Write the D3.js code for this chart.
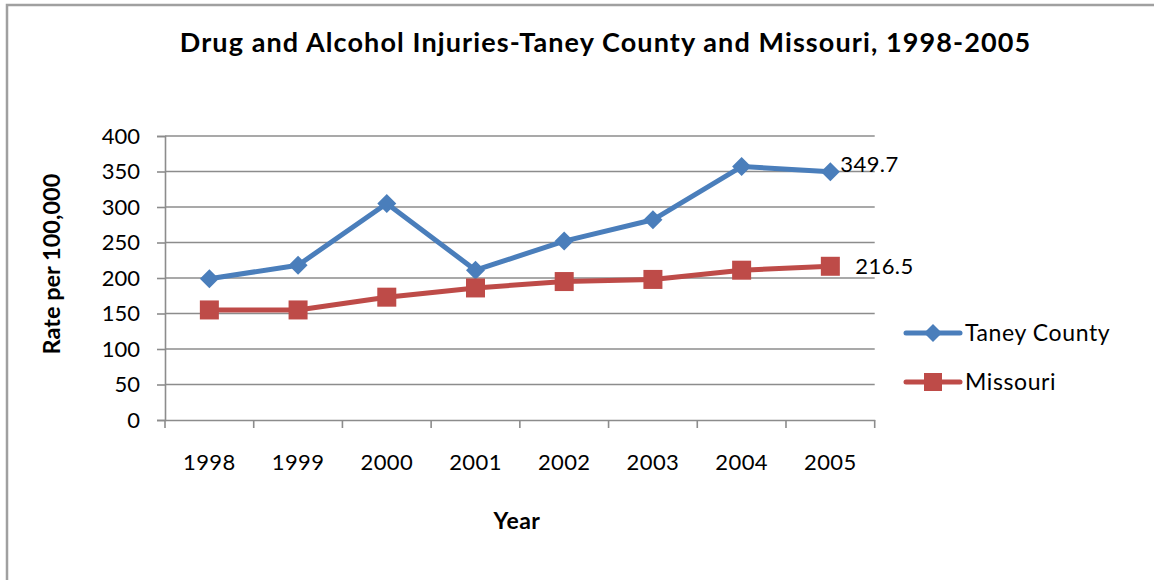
<!DOCTYPE html>
<html><head><meta charset="utf-8">
<script src="https://cdn.jsdelivr.net/npm/d3@7"></script>
<style>
html,body{margin:0;padding:0;background:#fff;}
svg{display:block;}
text{font-family:Lato,"Open Sans",sans-serif;fill:#000;}
</style></head>
<body>
<svg id="chart" width="1154" height="580"></svg>
<script>
const years = ["1998","1999","2000","2001","2002","2003","2004","2005"];
const taneyCounty = [199, 218, 305, 211, 252, 282, 357, 349.7];
const missouri = [155, 155, 173, 186, 195, 198, 211, 216.5];
const yTicks = [0, 50, 100, 150, 200, 250, 300, 350, 400];
const seriesNames = ["Taney County", "Missouri"];
const titleText = "Drug and Alcohol Injuries-Taney County and Missouri, 1998-2005";

(function(){
const svg = d3.select("#chart");
const blue = "#4a7ebb", red = "#be4b48", grid = "#8c8c8c";

// outer frame
svg.append("rect").attr("x",7).attr("y",5).attr("width",1160).attr("height",590)
  .attr("fill","none").attr("stroke","#a0a0a0").attr("stroke-width",2.5);

const pL = 165, pR = 874.7, pT = 136, pB = 420;
const x = d3.scaleBand().domain(years).range([pL, pR]).padding(0);
const y = d3.scaleLinear().domain([0,400]).range([pB, pT]);

// gridlines
svg.append("g").selectAll("line").data(yTicks.filter(d=>d>0)).join("line")
  .attr("x1",pL).attr("x2",pR).attr("y1",d=>y(d)).attr("y2",d=>y(d))
  .attr("stroke",grid).attr("stroke-width",1.6);

// y axis
const yAxis = svg.append("g").attr("transform",`translate(${pL},0)`)
  .call(d3.axisLeft(y).tickValues(yTicks).tickSize(8).tickPadding(17));
yAxis.select(".domain").attr("stroke",grid).attr("stroke-width",1.6);
yAxis.selectAll(".tick line").attr("stroke",grid).attr("stroke-width",1.6);
yAxis.selectAll(".tick text").attr("font-size",22).attr("font-family","Lato").attr("fill","#000");

// x axis
const xAxis = svg.append("g").attr("transform",`translate(0,${pB})`)
  .call(d3.axisBottom(x).tickSize(0).tickPadding(34));
xAxis.select(".domain").attr("stroke",grid).attr("stroke-width",1.6);
xAxis.selectAll(".tick text").attr("font-size",22).attr("font-family","Lato").attr("fill","#000")
  .attr("letter-spacing",0.4);
// category boundary tick marks
svg.append("g").selectAll("line").data(d3.range(years.length+1)).join("line")
  .attr("x1",i=>pL + i*x.step()).attr("x2",i=>pL + i*x.step())
  .attr("y1",pB).attr("y2",pB+8)
  .attr("stroke",grid).attr("stroke-width",1.6);

const cx = d => x(d) + x.bandwidth()/2;
function diamondPath(cx0, cy0, r){
  return `M${cx0},${cy0-r}L${cx0+r},${cy0}L${cx0},${cy0+r}L${cx0-r},${cy0}Z`;
}
// lines
const lineGen = d3.line().x((d,i)=>cx(years[i])).y(d=>y(d));
svg.append("path").datum(taneyCounty).attr("d",lineGen).attr("fill","none")
  .attr("stroke",blue).attr("stroke-width",5).attr("stroke-linejoin","round");
svg.append("path").datum(missouri).attr("d",lineGen).attr("fill","none")
  .attr("stroke",red).attr("stroke-width",5).attr("stroke-linejoin","round");
// markers
svg.append("g").selectAll("path").data(taneyCounty).join("path")
  .attr("d",(d,i)=>diamondPath(cx(years[i]), y(d), 9.5)).attr("fill",blue);
svg.append("g").selectAll("rect").data(missouri).join("rect")
  .attr("x",(d,i)=>cx(years[i])-9.5).attr("y",d=>y(d)-9.5)
  .attr("width",19).attr("height",19).attr("fill",red);

// data labels on last points
const last = years.length-1;
svg.append("text").attr("x",cx(years[last])+10).attr("y",y(taneyCounty[last])-0)
  .attr("font-size",22).attr("letter-spacing",0.4).text(taneyCounty[last].toFixed(1));
svg.append("text").attr("x",cx(years[last])+25).attr("y",y(missouri[last])+8)
  .attr("font-size",22).attr("letter-spacing",0.4).text(missouri[last].toFixed(1));

// title
svg.append("text").attr("x",605.5).attr("y",52).attr("text-anchor","middle")
  .attr("font-size",27).attr("font-weight","bold").attr("letter-spacing",1.1).text(titleText);

// axis titles
svg.append("text").attr("transform","translate(60,264) rotate(-90)").attr("text-anchor","middle")
  .attr("font-size",23.5).attr("font-weight","bold").text("Rate per 100,000");
svg.append("text").attr("x",517).attr("y",529).attr("text-anchor","middle")
  .attr("font-size",23).attr("font-weight","bold").attr("letter-spacing",0.5).text("Year");

// legend
const legend = [{name:seriesNames[0],color:blue,shape:"diamond",y:333},{name:seriesNames[1],color:red,shape:"square",y:382}];
const lg = svg.append("g");
legend.forEach(l=>{
  lg.append("line").attr("x1",906).attr("x2",960).attr("y1",l.y).attr("y2",l.y)
    .attr("stroke",l.color).attr("stroke-width",5).attr("stroke-linecap","round");
  if(l.shape==="diamond") lg.append("path").attr("d",diamondPath(933,l.y,9)).attr("fill",l.color);
  else lg.append("rect").attr("x",924).attr("y",l.y-9).attr("width",18).attr("height",18).attr("fill",l.color);
  lg.append("text").attr("x",965).attr("y",l.y+8).attr("font-size",23).attr("letter-spacing",0.6).text(l.name);
});
})();
</script>
</body></html>
